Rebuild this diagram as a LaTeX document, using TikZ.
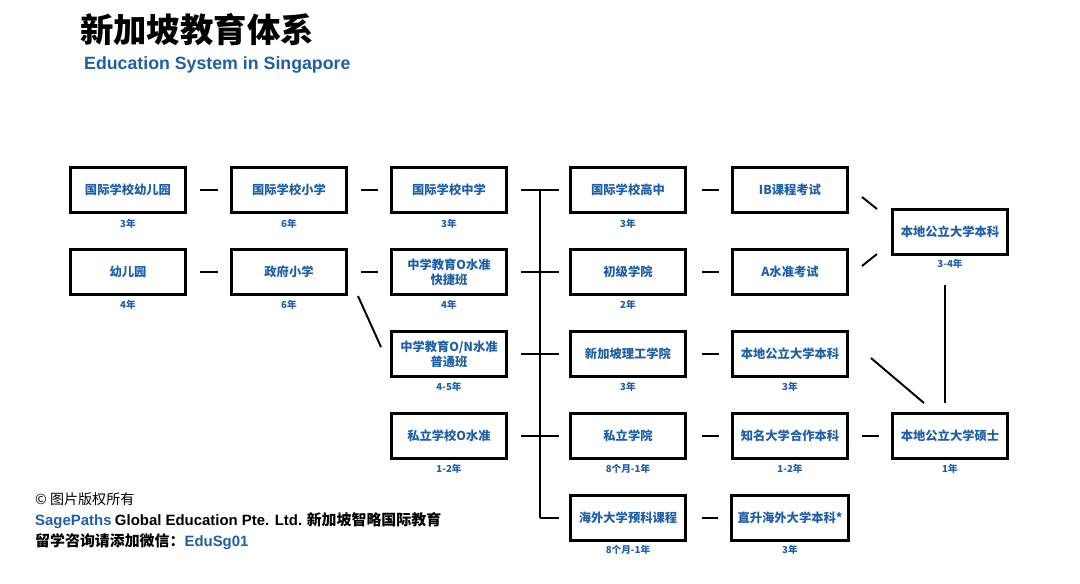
\documentclass[tikz,border=0pt]{standalone}
\usepackage{fontspec}
\setmainfont{Noto Sans CJK SC}
\newfontfamily\lat{Liberation Sans}
\usetikzlibrary{positioning}
\definecolor{sgblue}{HTML}{1F5FA8}
\tikzset{
  stage/.style={draw,line width=1.7pt,minimum width=2.3cm,minimum height=0.9cm,
    align=center,font=\fontsize{7}{8.5}\selectfont\bfseries,text=sgblue},
  years/.style={font=\fontsize{5.5}{6}\selectfont\bfseries,text=sgblue},
  link/.style={line width=1.1pt}
}
\begin{document}
\begin{tikzpicture}[x=0.02cm,y=-0.02cm]
    \useasboundingbox (0,0) rectangle (1080,583);
    % Title
    \node[anchor=west,font=\fontsize{19}{22}\selectfont\bfseries] (title) at (74,30) {新加坡教育体系};
    \node[anchor=west,font=\lat\fontsize{10.1}{12}\selectfont\bfseries,text=sgblue] (subtitle) at (78,65) {Education System in Singapore};

    % Column 1 and 2
    \node[stage] (kg1) at (128,190) {国际学校幼儿园};
    \node[stage] (kg2) at (128,272) {幼儿园};
    \node[stage] (pri1) at (289,190) {国际学校小学};
    \node[stage] (pri2) at (289,272) {政府小学};
    \node[years] at (128,224) {3年};
    \node[years] at (128,305) {4年};
    \node[years] at (289,224) {6年};
    \node[years] at (289,305) {6年};

    % Column 3
    \node[stage] (sec1) at (449,190) {国际学校中学};
    \node[stage] (sec2) at (449,272) {中学教育O水准\\快捷班};
    \node[stage] (sec3) at (449,354) {中学教育O/N水准\\普通班};
    \node[stage] (sec4) at (449,436) {私立学校O水准};
    \node[years] at (449,224) {3年};
    \node[years] at (449,305) {4年};
    \node[years] at (449,387) {4-5年};
    \node[years] at (449,469) {1-2年};

    % Column 4
    \node[stage] (post1) at (628,190) {国际学校高中};
    \node[stage] (post2) at (628,272) {初级学院};
    \node[stage] (post3) at (628,354) {新加坡理工学院};
    \node[stage] (post4) at (628,436) {私立学院};
    \node[stage] (post5) at (628,518) {海外大学预科课程};
    \node[years] at (628,224) {3年};
    \node[years] at (628,305) {2年};
    \node[years] at (628,387) {3年};
    \node[years] at (628,469) {8个月-1年};
    \node[years] at (628,550) {8个月-1年};

    % Column 5
    \node[stage] (deg1) at (790,190) {IB课程考试};
    \node[stage] (deg2) at (790,272) {A水准考试};
    \node[stage] (deg3) at (790,354) {本地公立大学本科};
    \node[stage] (deg4) at (790,436) {知名大学合作本科};
    \node[stage] (deg5) at (790,518) {直升海外大学本科*};
    \node[years] at (790,387) {3年};
    \node[years] at (790,469) {1-2年};
    \node[years] at (790,550) {3年};

    % Column 6
    \node[stage] (uni) at (950,232) {本地公立大学本科};
    \node[stage] (mas) at (950,436) {本地公立大学硕士};
    \node[years] at (950,264) {3-4年};
    \node[years] at (950,469) {1年};

    % Connectors
    \draw[link] ([shift={(13,0)}]kg1.east) -- ([shift={(-12,0)}]pri1.west);
    \draw[link] ([shift={(13,0)}]kg2.east) -- ([shift={(-12,0)}]pri2.west);
    \draw[link] ([shift={(13,0)}]pri1.east) -- ([shift={(-12,0)}]sec1.west);
    \draw[link] ([shift={(13,0)}]pri2.east) -- ([shift={(-12,0)}]sec2.west);
    \draw[link] ([shift={(10,0)}]pri2.south east) -- ([shift={(-9,17)}]sec3.north west);
    \coordinate (bustop) at (540,190);
    \coordinate (busend) at (540,518);
    \draw[link] (bustop) -- (busend);
    \foreach \s/\p in {sec1/post1,sec2/post2,sec3/post3,sec4/post4}{
      \draw[link] ([shift={(13,0)}]\s.east) -- ([shift={(-10,0)}]\p.west);
    }
    \draw[link] (busend) -- ([shift={(-10,0)}]post5.west);
    \foreach \p/\d in {post1/deg1,post2/deg2,post3/deg3,post4/deg4,post5/deg5}{
      \draw[link] ([shift={(15,0)}]\p.east) -- ([shift={(-12,0)}]\d.west);
    }
    \draw[link] ([shift={(13,7)}]deg1.east) -- ([shift={(-14,-23)}]uni.west);
    \draw[link] ([shift={(13,-6)}]deg2.east) -- ([shift={(-14,22)}]uni.west);
    \draw[link] ([shift={(-5,29)}]uni.south) -- ([shift={(-5,-9)}]mas.north);
    \draw[link] ([shift={(22,4)}]deg3.east) -- ([shift={(-26,-9)}]mas.north);
    \draw[link] ([shift={(13,0)}]deg4.east) -- ([shift={(-12,0)}]mas.west);

    % Footer
    \node[anchor=west,font=\fontsize{8}{9}\selectfont] (copy) at (29,499) {© 图片版权所有};
    \node[anchor=west,font=\fontsize{8.5}{10}\selectfont\bfseries] (firm) at (29,521)
      {{\lat\color{sgblue}SagePaths}\ {\lat Global Education Pte. Ltd.} 新加坡智略国际教育};
    \node[anchor=west,font=\fontsize{8.5}{10}\selectfont\bfseries] (wechat) at (29,542)
      {留学咨询请添加微信：{\lat\color{sgblue}EduSg01}};
\end{tikzpicture}
\end{document}
